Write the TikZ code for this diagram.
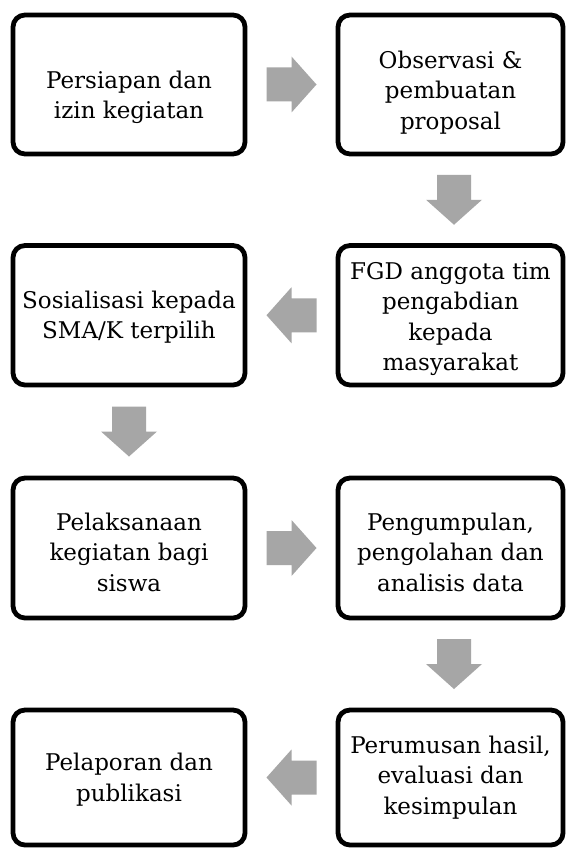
\documentclass[tikz,border=0pt]{standalone}
\usepackage{fontspec}
\setmainfont{DejaVu Serif}
\usetikzlibrary{calc}
\definecolor{arrowgray}{RGB}{166,166,166}
\tikzset{
  stepbox/.style={draw=black, line width=4.8pt, rounded corners=12pt, inner sep=0pt},
  steptext/.style={align=center, inner sep=0pt, text=black,
    font=\fontsize{23}{30.5}\selectfont},
  blockarrow/.pic={\fill[arrowgray] (-25,-17) -- (0,-17) -- (0,-28) -- (25,0) -- (0,28) -- (0,17) -- (-25,17) -- cycle;}
}
\begin{document}
\begin{tikzpicture}[x=1pt,y=-1pt]
\useasboundingbox (0,0) rectangle (566,848);
\fill[white] (0,0) rectangle (566,848);
\node[stepbox, minimum width=232pt, minimum height=139pt] (b1) at (129,84.5) {};
\node[stepbox, minimum width=225pt, minimum height=139pt] (b2) at (450.5,84.5) {};
\node[stepbox, minimum width=232pt, minimum height=139.5pt] (b3) at (129,315.25) {};
\node[stepbox, minimum width=225pt, minimum height=139.5pt] (b4) at (450.5,315.25) {};
\node[stepbox, minimum width=232pt, minimum height=140pt] (b5) at (129,548) {};
\node[stepbox, minimum width=225pt, minimum height=140pt] (b6) at (450.5,548) {};
\node[stepbox, minimum width=232pt, minimum height=135pt] (b7) at (129,777.5) {};
\node[stepbox, minimum width=225pt, minimum height=135pt] (b8) at (450.5,777.5) {};
\node[steptext] (t1) at ($(b1.center)+(0,13)$) {Persiapan dan\\izin kegiatan};
\node[steptext] (t2) at ($(b2.center)+(0,8)$) {Observasi \&\\pembuatan\\proposal};
\node[steptext] (t3) at ($(b3.center)+(0,2)$) {Sosialisasi kepada\\SMA/K terpilih};
\node[steptext] (t4) at ($(b4.center)+(0,4)$) {FGD anggota tim\\pengabdian\\kepada\\masyarakat};
\node[steptext] (t5) at ($(b5.center)+(0,4)$) {Pelaksanaan\\kegiatan bagi\\siswa};
\node[steptext] (t6) at ($(b6.center)+(0,4)$) {Pengumpulan,\\pengolahan dan\\analisis data};
\node[steptext] (t7) at ($(b7.center)+(0,2)$) {Pelaporan dan\\publikasi};
\node[steptext] (t8) at ($(b8.center)+(0,0)$) {Perumusan hasil,\\evaluasi dan\\kesimpulan};
\coordinate (a12) at ($(b1.east)!0.5!(b2.west)$);
\coordinate (a24) at ($(b2.south)!0.5!(b4.north)+(3.5,0)$);
\coordinate (a43) at ($(b4.west)!0.5!(b3.east)$);
\coordinate (a35) at ($(b3.south)!0.5!(b5.north)$);
\coordinate (a56) at ($(b5.east)!0.5!(b6.west)$);
\coordinate (a68) at ($(b6.south)!0.5!(b8.north)+(3.5,0)$);
\coordinate (a87) at ($(b8.west)!0.5!(b7.east)$);
\pic at (a12) {blockarrow};
\pic[rotate=-90] at (a24) {blockarrow};
\pic[rotate=180] at (a43) {blockarrow};
\pic[rotate=-90] at (a35) {blockarrow};
\pic at (a56) {blockarrow};
\pic[rotate=-90] at (a68) {blockarrow};
\pic[rotate=180] at (a87) {blockarrow};
\end{tikzpicture}
\end{document}
